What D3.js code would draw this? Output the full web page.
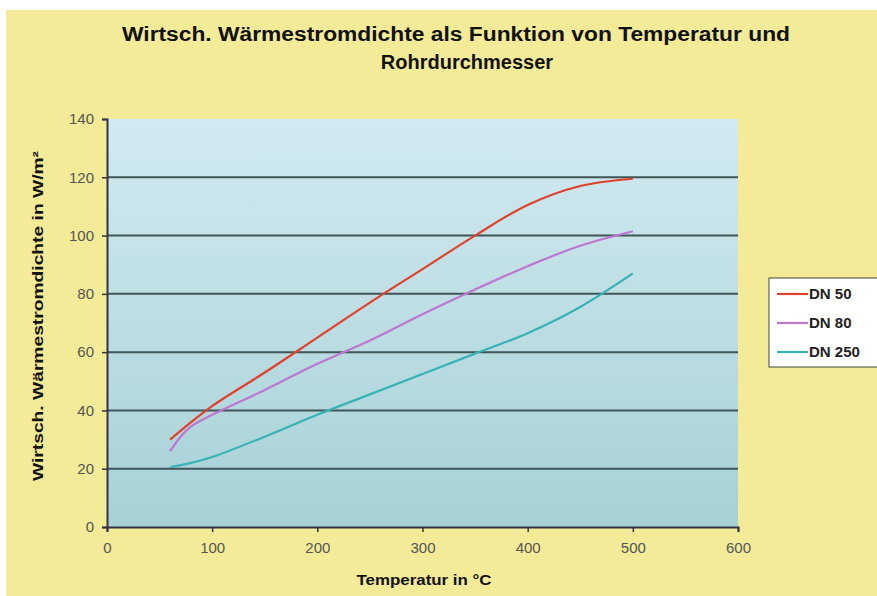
<!doctype html>
<html>
	<head>
		<meta charset="utf-8">
		<title>Wärmestromdichte</title>
		<style>
			body{
				margin: 0;
				background-color: white;
			}
			svg text{
				font-family: "Liberation Sans", Arial, sans-serif;
			}
		</style>
	</head>
	<body>
		<script src="https://d3js.org/d3.v7.min.js"></script>
		<script>
			// temperatures in °C and values in W/m²
			var tempsDN50 = [60, 80, 100, 150, 200, 250, 300, 350, 400, 450, 500];
			var valuesDN50 = [30, 36, 41.5, 53, 65, 77, 88.5, 100, 110.5, 117, 119.5];
			var tempsDN80 = [60, 70, 80, 100, 150, 200, 250, 300, 350, 400, 450, 500];
			var valuesDN80 = [26, 31, 34.5, 38.5, 47, 56, 64, 73, 81.5, 89.5, 96.5, 101.5];
			var tempsDN250 = [60, 80, 100, 150, 200, 250, 300, 350, 400, 450, 500];
			var valuesDN250 = [20.5, 22, 24, 31, 38.5, 45.5, 52.5, 59.5, 66.5, 75.5, 87];
			var seriesNames = ["DN 50", "DN 80", "DN 250"];
			var seriesColors = ["#e0412c", "#bd77d0", "#37b3b5"];
			var xTicks = [0, 100, 200, 300, 400, 500, 600];
			var yTicks = [0, 20, 40, 60, 80, 100, 120, 140];

			var width = 877, height = 596;
			var plot = {left: 107, top: 119, right: 738, bottom: 527};

			var svg = d3.select("body").append("svg")
				.attr("width", width).attr("height", height);

			var defs = svg.append("defs");
			var grad = defs.append("linearGradient")
				.attr("id", "plotbg").attr("x1", 0).attr("y1", 0).attr("x2", 0).attr("y2", 1);
			grad.append("stop").attr("offset", "0%").attr("stop-color", "#d2eaf1");
			grad.append("stop").attr("offset", "100%").attr("stop-color", "#a6d1d5");

			// outer yellow area
			svg.append("rect")
				.attr("x", 6).attr("y", 10)
				.attr("width", width - 6).attr("height", height - 10)
				.style("fill", "#f3eb97");

			var x = d3.scaleLinear().domain([0, 600]).range([plot.left, plot.right]);
			var y = d3.scaleLinear().domain([0, 140]).range([plot.bottom, plot.top]);

			svg.append("rect")
				.attr("x", plot.left).attr("y", plot.top)
				.attr("width", plot.right - plot.left).attr("height", plot.bottom - plot.top)
				.style("fill", "url(#plotbg)");

			// grid lines
			svg.append("g").selectAll("line")
				.data(yTicks.filter(function(d){ return d > 0 && d < 140; }))
				.enter().append("line")
				.attr("x1", plot.left).attr("x2", plot.right)
				.attr("y1", function(d){ return y(d); })
				.attr("y2", function(d){ return y(d); })
				.style("stroke", "#3f5556")
				.style("stroke-width", 2);

			var yAxis = svg.append("g")
				.attr("transform", "translate(" + plot.left + ",0)")
				.call(d3.axisLeft(y).tickValues(yTicks).tickSize(5).tickPadding(8));
			var xAxis = svg.append("g")
				.attr("transform", "translate(0," + plot.bottom + ")")
				.call(d3.axisBottom(x).tickValues(xTicks).tickSize(5).tickPadding(10));

			[xAxis, yAxis].forEach(function(a){
				a.select(".domain").style("stroke", "#334").style("stroke-width", 2);
				a.selectAll(".tick line").style("stroke", "#334").style("stroke-width", 1.5);
				a.selectAll("text")
					.style("font-size", "15px")
					.style("fill", "#555");
			});

			var data = [
				{name: seriesNames[0], temps: tempsDN50, values: valuesDN50},
				{name: seriesNames[1], temps: tempsDN80, values: valuesDN80},
				{name: seriesNames[2], temps: tempsDN250, values: valuesDN250}
			];

			var line = d3.line()
				.x(function(d){ return x(d[0]); })
				.y(function(d){ return y(d[1]); })
				.curve(d3.curveCatmullRom.alpha(0.5));

			data.forEach(function(s, i){
				var pts = s.temps.map(function(t, k){ return [t, s.values[k]]; });
				svg.append("path")
					.attr("d", line(pts))
					.style("fill", "none")
					.style("stroke", seriesColors[i])
					.style("stroke-width", 2.2);
			});

			// titles
			var title = svg.append("text")
				.attr("text-anchor", "middle")
				.style("font-weight", "bold")
				.style("fill", "#111");
			title.append("tspan").attr("x", 456).attr("y", 41)
				.style("font-size", "20px")
				.attr("textLength", 668).attr("lengthAdjust", "spacingAndGlyphs")
				.text("Wirtsch. Wärmestromdichte als Funktion von Temperatur und");
			title.append("tspan").attr("x", 467).attr("y", 69)
				.style("font-size", "20px")
				.text("Rohrdurchmesser");

			svg.append("text")
				.attr("x", 424).attr("y", 585)
				.attr("text-anchor", "middle")
				.attr("textLength", 135).attr("lengthAdjust", "spacingAndGlyphs")
				.style("font-size", "15px").style("font-weight", "bold").style("fill", "#111")
				.text("Temperatur in °C");

			svg.append("text")
				.attr("transform", "translate(43,316) rotate(-90)")
				.attr("text-anchor", "middle")
				.attr("textLength", 330).attr("lengthAdjust", "spacingAndGlyphs")
				.style("font-size", "15px").style("font-weight", "bold").style("fill", "#111")
				.text("Wirtsch. Wärmestromdichte in W/m²");

			// legend
			var legend = svg.append("g").attr("transform", "translate(769,278)");
			legend.append("rect")
				.attr("width", 112).attr("height", 89)
				.style("fill", "#ffffff")
				.style("stroke", "#444").style("stroke-width", 1);
			var entries = legend.selectAll("g.entry")
				.data(seriesNames).enter().append("g")
				.attr("transform", function(d, i){ return "translate(0," + (16 + i * 29) + ")"; });
			entries.append("line")
				.attr("x1", 8).attr("x2", 39)
				.style("stroke", function(d, i){ return seriesColors[i]; })
				.style("stroke-width", 2.2);
			entries.append("text")
				.attr("x", 40).attr("dy", "0.35em")
				.style("font-size", "15px").style("font-weight", "bold").style("fill", "#222")
				.text(function(d){ return d; });
		</script>
	</body>
</html>
